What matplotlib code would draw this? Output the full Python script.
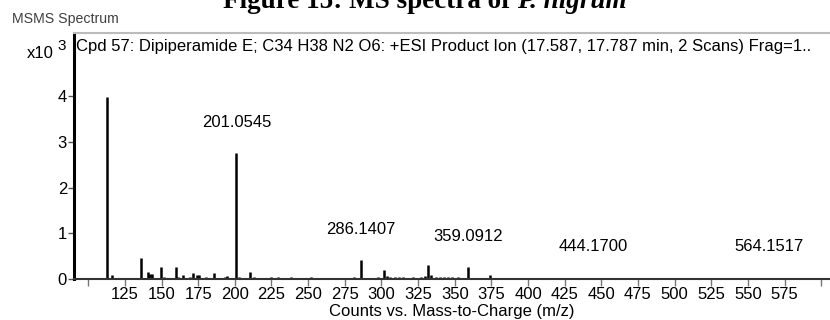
import matplotlib
matplotlib.use("Agg")
import matplotlib.pyplot as plt

plt.rcParams['font.family'] = ['Liberation Sans', 'DejaVu Sans']

# peak list: m/z and abundance (x10^3 counts)
mz = [103.0, 105.7, 113.0, 116.0, 130.7, 135.8, 141.0, 142.0, 143.2, 149.5,
      152.0, 159.6, 161.3, 164.7, 169.3, 171.6, 173.9, 175.7, 180.6, 185.5,
      190.0, 193.2, 194.8, 198.0, 201.05, 203.0, 206.5, 210.2, 213.0, 217.0,
      221.0, 225.0, 229.3, 233.0, 238.6, 242.0, 246.4, 252.3, 254.5, 258.0,
      261.4, 266.0, 272.7, 277.0, 281.0, 286.14, 289.5, 297.5, 301.6, 303.5,
      306.0, 309.0, 312.0, 315.0, 318.0, 321.5, 324.0, 327.0, 329.5, 331.8,
      334.0, 337.0, 340.0, 343.0, 345.5, 348.0, 352.0, 355.0, 359.09, 362.0,
      373.8, 379.0, 385.0, 401.0, 403.5, 424.0, 428.0, 432.0, 444.17, 460.0,
      487.0, 489.0, 564.15]
inten = [0.02, 0.03, 3.98, 0.08, 0.02, 0.46, 0.15, 0.1, 0.12, 0.27,
         0.04, 0.27, 0.05, 0.08, 0.04, 0.13, 0.08, 0.09, 0.05, 0.13,
         0.03, 0.05, 0.06, 0.03, 2.75, 0.05, 0.03, 0.16, 0.04, 0.03,
         0.02, 0.04, 0.04, 0.02, 0.04, 0.03, 0.03, 0.05, 0.03, 0.02,
         0.03, 0.02, 0.03, 0.03, 0.04, 0.41, 0.03, 0.05, 0.2, 0.06,
         0.04, 0.05, 0.04, 0.05, 0.03, 0.04, 0.03, 0.05, 0.06, 0.31,
         0.08, 0.05, 0.04, 0.05, 0.04, 0.04, 0.05, 0.03, 0.27, 0.03,
         0.09, 0.02, 0.02, 0.03, 0.02, 0.02, 0.02, 0.02, 0.03, 0.03,
         0.02, 0.02, 0.03]

label_mz = [201.0545, 286.1407, 359.0912, 444.1700, 564.1517]
label_h = [2.75, 0.41, 0.27, 0.03, 0.03]

xticks = [100, 125, 150, 175, 200, 225, 250, 275, 300, 325, 350, 375,
          400, 425, 450, 475, 500, 525, 550, 575, 600]
xticklabels = ['' if t in (100, 600) else str(t) for t in xticks]
yticks = [0, 1, 2, 3, 4]

fs = 12

fig = plt.figure(figsize=(8.3, 3.2), dpi=100)
ax = fig.add_axes([74 / 830, 41 / 320, 756 / 830, 246 / 320])

ax.vlines(mz, 0, inten, color='black', linewidth=1.8)

for m, h in zip(label_mz, label_h):
    ax.text(m, h + 0.67, '%.4f' % m, ha='center', va='center', fontsize=fs)

ax.set_xlim(90.3, 606)
ax.set_ylim(0, 5.38)
ax.set_xticks(xticks)
ax.set_xticklabels(xticklabels, fontsize=fs)
ax.set_yticks(yticks)
ax.set_yticklabels([str(t) for t in yticks], fontsize=fs)
ax.tick_params(axis='x', direction='out', length=5, width=1, color='#777777', pad=1)
ax.tick_params(axis='y', direction='out', length=4, width=1, color='#555555', pad=1)

ax.spines['left'].set_linewidth(2.2)
ax.spines['left'].set_color('black')
ax.spines['bottom'].set_linewidth(1.5)
ax.spines['bottom'].set_color('#333333')
ax.spines['top'].set_linewidth(1.5)
ax.spines['top'].set_color('#bbbbbb')
ax.spines['right'].set_visible(False)

ax.set_xlabel('Counts vs. Mass-to-Charge (m/z)', fontsize=fs, labelpad=1)

ax.text(0.003, 0.945, 'Cpd 57: Dipiperamide E; C34 H38 N2 O6: +ESI Product Ion '
        '(17.587, 17.787 min, 2 Scans) Frag=1..', transform=ax.transAxes,
        ha='left', va='center', fontsize=fs)

fig.text(27 / 830, 1 - 53 / 320, 'x10', ha='left', va='center', fontsize=fs)
fig.text(57 / 830, 1 - 46 / 320, '3', ha='left', va='center', fontsize=fs - 1)
fig.text(12 / 830, 1 - 19 / 320, 'MSMS Spectrum', ha='left', va='center',
         fontsize=10.2, color='#404040')

# page caption above the chart, cut by the top edge
t1 = fig.text(223 / 830, 1 - 8 / 320, 'Figure 15: MS spectra of ', ha='left',
              va='baseline', fontsize=19.5, fontweight='bold', family='Liberation Serif')
fig.canvas.draw()
bb = t1.get_window_extent()
fig.text(bb.x1 / 830, 1 - 8 / 320, 'P. nigrum', ha='left', va='baseline', fontsize=19.5,
         fontweight='bold', fontstyle='italic', family='Liberation Serif')

fig.savefig('out.png', dpi=100)
